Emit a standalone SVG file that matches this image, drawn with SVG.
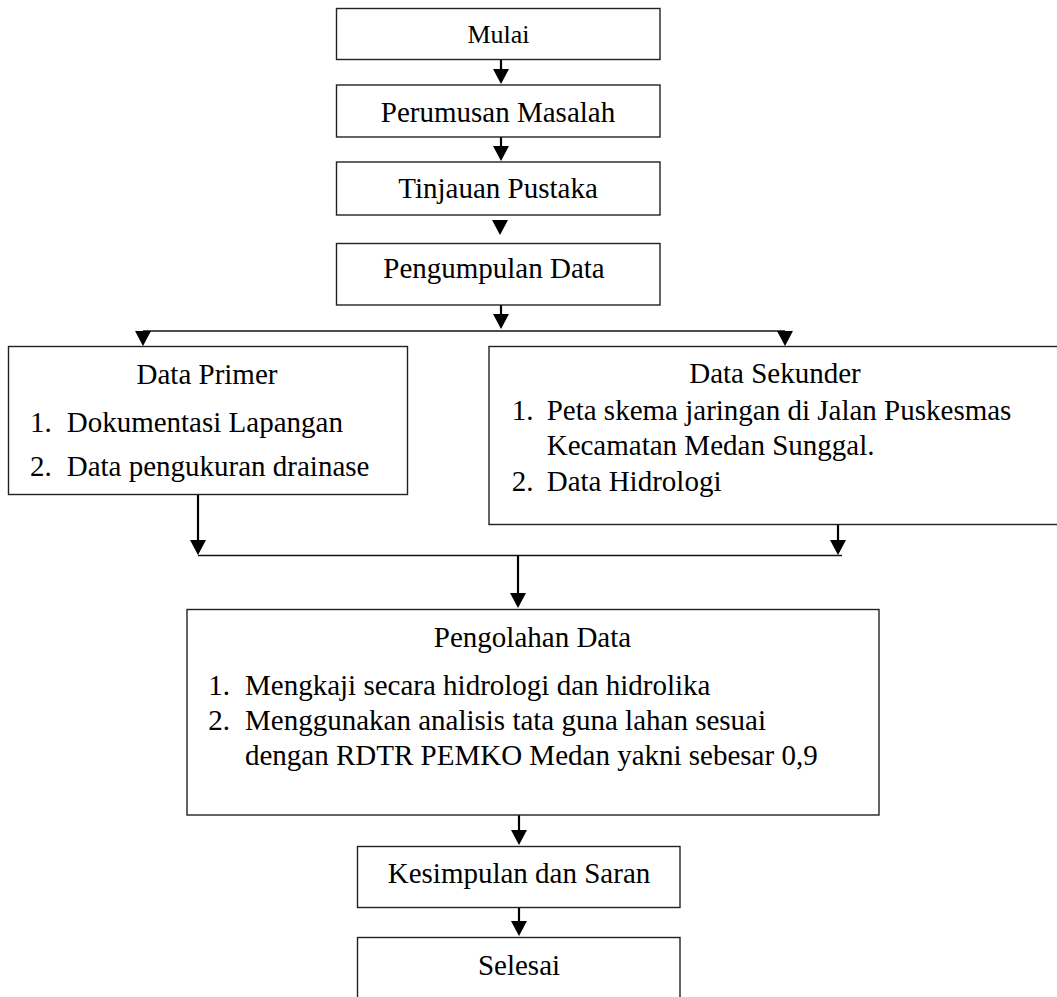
<svg xmlns="http://www.w3.org/2000/svg" xmlns:xlink="http://www.w3.org/1999/xlink" width="1057" height="997" viewBox="0 0 1057 997">
<style>
  .box{fill:#fff;stroke:#222;stroke-width:1.4}
  .t{font-family:"Liberation Serif","Times New Roman",serif;font-size:29px;fill:#000}
  .c{text-anchor:middle}
  .sh{stroke:#000;stroke-width:2.2;fill:none}
  .hl{stroke:#111;stroke-width:1.4;fill:none}
  .ah{fill:#000}
</style>
<defs>
  <path id="ah" d="M-8,-15 L8,-15 L0,0 Z"/>
</defs>
<rect width="1057" height="997" fill="#fff"/>

<g id="connectors">
  <line class="sh" x1="501" y1="59" x2="501" y2="70"/>
  <use xlink:href="#ah" href="#ah" class="ah" x="501" y="84"/>
  <line class="sh" x1="501" y1="137" x2="501" y2="147"/>
  <use xlink:href="#ah" href="#ah" class="ah" x="501" y="161"/>
  <use xlink:href="#ah" href="#ah" class="ah" x="500" y="235"/>
  <line class="sh" x1="501" y1="305" x2="501" y2="315"/>
  <use xlink:href="#ah" href="#ah" class="ah" x="501" y="329"/>
  <line class="hl" x1="143" y1="331" x2="785" y2="331"/>
  <use xlink:href="#ah" href="#ah" class="ah" x="143" y="346"/>
  <use xlink:href="#ah" href="#ah" class="ah" x="785" y="346"/>
  <line class="sh" x1="198" y1="494" x2="198" y2="541"/>
  <use xlink:href="#ah" href="#ah" class="ah" x="198" y="555"/>
  <line class="sh" x1="838" y1="525" x2="838" y2="541"/>
  <use xlink:href="#ah" href="#ah" class="ah" x="838" y="555"/>
  <line class="hl" x1="198" y1="555.5" x2="842" y2="555.5"/>
  <line class="sh" x1="518" y1="555" x2="518" y2="594"/>
  <use xlink:href="#ah" href="#ah" class="ah" x="518" y="608"/>
  <line class="sh" x1="519" y1="815" x2="519" y2="831"/>
  <use xlink:href="#ah" href="#ah" class="ah" x="519" y="845"/>
  <line class="sh" x1="519" y1="907" x2="519" y2="922"/>
  <use xlink:href="#ah" href="#ah" class="ah" x="519" y="936"/>
</g>

<g id="mulai">
  <rect class="box" x="336.5" y="8.5" width="323.5" height="51"/>
  <text class="t c" x="498.5" y="42.7" style="font-size:26px">Mulai</text>
</g>
<g id="perumusan">
  <rect class="box" x="336.5" y="85" width="323.5" height="52"/>
  <text class="t c" x="498" y="121.7">Perumusan Masalah</text>
</g>
<g id="tinjauan">
  <rect class="box" x="336.5" y="162" width="323.5" height="53"/>
  <text class="t c" x="498" y="198.3">Tinjauan Pustaka</text>
</g>
<g id="pengumpulan">
  <rect class="box" x="336.5" y="243.5" width="323.5" height="61.5"/>
  <text class="t c" x="494" y="278.3">Pengumpulan Data</text>
</g>
<g id="data-primer">
  <rect class="box" x="8.5" y="346.5" width="399" height="148"/>
  <text class="t c" x="207" y="384">Data Primer</text>
  <text class="t" x="30" y="431.7">1.</text>
  <text class="t" x="66.7" y="431.7">Dokumentasi Lapangan</text>
  <text class="t" x="30" y="475.7">2.</text>
  <text class="t" x="66.7" y="475.7">Data pengukuran drainase</text>
</g>
<g id="data-sekunder">
  <rect class="box" x="489" y="346.5" width="575" height="178"/>
  <text class="t c" x="775" y="383">Data Sekunder</text>
  <text class="t" x="511.7" y="420">1.</text>
  <text class="t" x="546.7" y="420">Peta skema jaringan di Jalan Puskesmas</text>
  <text class="t" x="546.7" y="455">Kecamatan Medan Sunggal.</text>
  <text class="t" x="511.7" y="491">2.</text>
  <text class="t" x="546.7" y="491">Data Hidrologi</text>
</g>
<g id="pengolahan">
  <rect class="box" x="187" y="609.5" width="692" height="205.5"/>
  <text class="t c" x="532.5" y="647.3">Pengolahan Data</text>
  <text class="t" x="208.3" y="695">1.</text>
  <text class="t" x="245" y="695">Mengkaji secara hidrologi dan hidrolika</text>
  <text class="t" x="208.3" y="730">2.</text>
  <text class="t" x="245" y="730">Menggunakan analisis tata guna lahan sesuai</text>
  <text class="t" x="245" y="765">dengan RDTR PEMKO Medan yakni sebesar 0,9</text>
</g>
<g id="kesimpulan">
  <rect class="box" x="357.5" y="846.5" width="322.5" height="61"/>
  <text class="t c" x="519" y="883.3">Kesimpulan dan Saran</text>
</g>
<g id="selesai">
  <rect class="box" x="357.5" y="937.5" width="322.5" height="70"/>
  <text class="t c" x="519" y="975">Selesai</text>
</g>
</svg>
